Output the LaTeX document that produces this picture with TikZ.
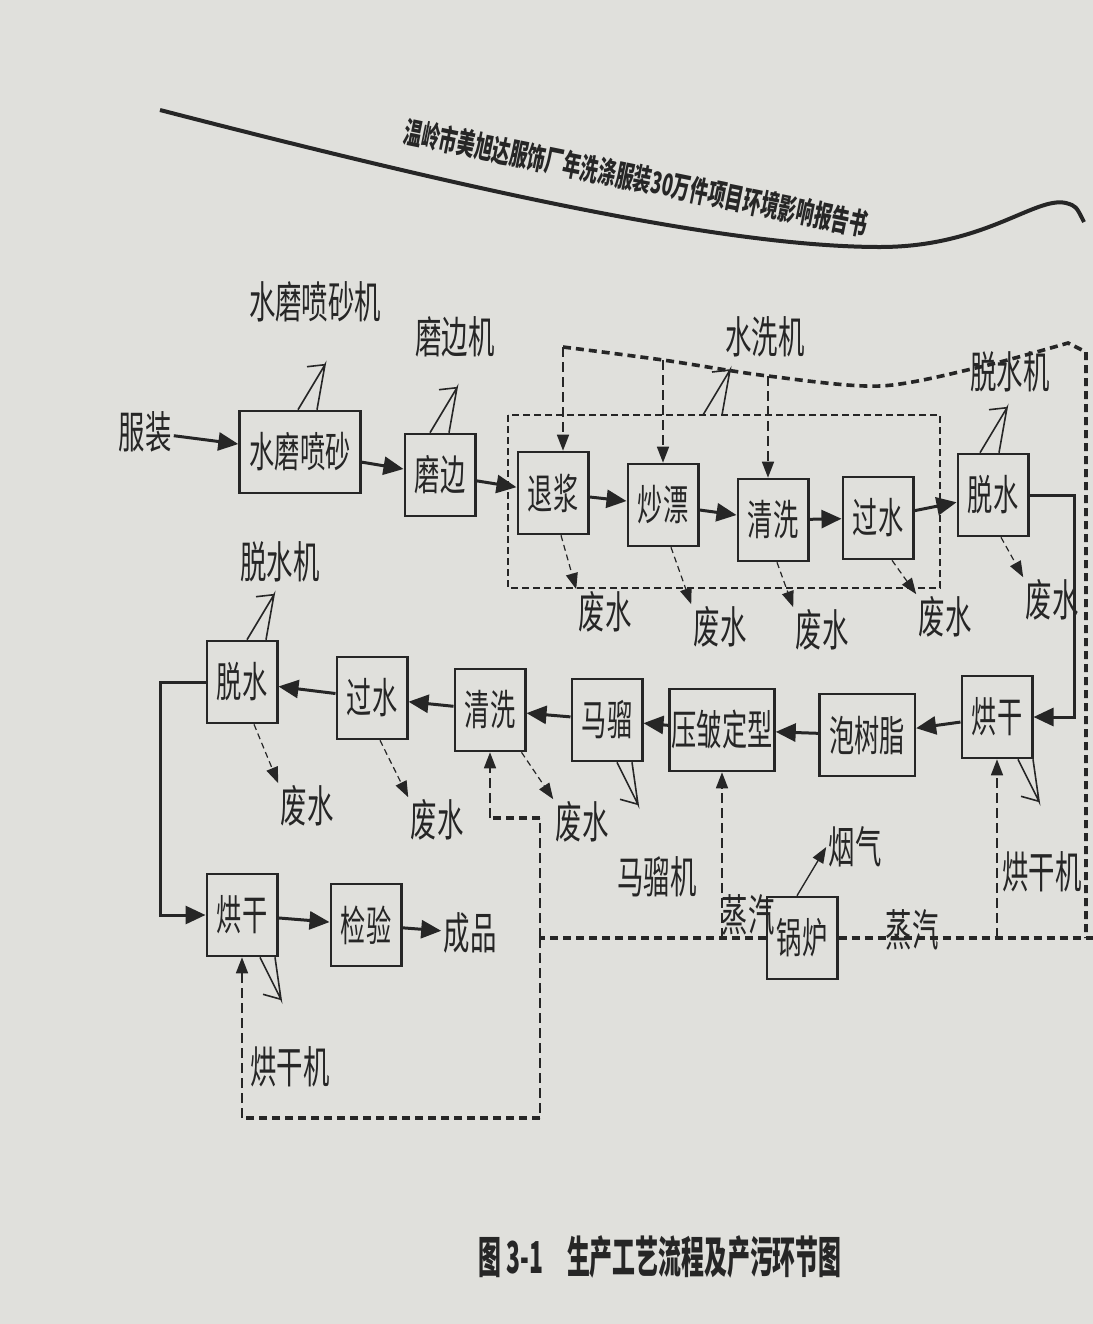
\documentclass[tikz,border=0pt]{standalone}
\usepackage{fontspec}
\setmainfont{Noto Sans CJK SC}[FakeStretch=0.6]
\newfontfamily\capfont{Noto Sans CJK SC}[FakeStretch=0.52]
\usetikzlibrary{arrows.meta, positioning, calc}

\definecolor{paper}{RGB}{224,224,220}
\definecolor{ink}{RGB}{38,38,38}

% noise marks of the machines
\newcommand{\noiseup}[1]{\draw[noise] #1 -- ++(27,-45) coordinate (nt) -- ++(-8,45) (nt) -- ++(-18,2);}
\newcommand{\noisedn}[1]{\draw[noise] #1 -- ++(21,42) coordinate (nt) -- ++(-6,-42) (nt) -- ++(-18,-5);}

\begin{document}
\begin{tikzpicture}[x=0.5pt, y=-0.5pt,
    box/.style={draw=ink, text=ink, line width=1.3pt, inner xsep=5pt, minimum height=41pt, font=\fontsize{21}{24}\selectfont},
    lbl/.style={text=ink, inner sep=1pt, font=\fontsize{22}{24}\selectfont},
    flow/.style={draw=ink, line width=1.5pt, -{Triangle[length=10pt, width=9pt]}},
    waste/.style={draw=ink, line width=0.6pt, densely dashed, -{Triangle[length=8pt, width=6pt]}},
    smoke/.style={draw=ink, line width=0.7pt, -{Triangle[length=8pt, width=6pt]}},
    steam/.style={draw=ink, line width=1.8pt, dash pattern=on 4pt off 2.5pt},
    steamv/.style={draw=ink, line width=0.8pt, dash pattern=on 5pt off 2.5pt},
    steamin/.style={steamv, -{Triangle[length=8pt, width=6pt]}},
    grp/.style={draw=ink, line width=0.9pt, dash pattern=on 3.5pt off 2pt},
    noise/.style={draw=ink, line width=0.8pt}
]
\useasboundingbox (0,0) rectangle (1093,1324);
\fill[paper] (0,0) rectangle (1093,1324);

% page header
\draw[ink, line width=2pt] (160,110) .. controls (450,185) and (720,247) .. (880,247) .. controls (985,247) and (1035,196) .. (1066,203) .. controls (1076,206) .. (1084,222);
\node[text=ink, rotate=-11.5, font=\bfseries\fontsize{15}{17}\selectfont] (hd) at (636,178) {温岭市美旭达服饰厂年洗涤服装30万件项目环境影响报告书};

% first row
\node[lbl] (fz)  at (145,432) {服装};
\node[box] (sm)  at (300,452) {水磨喷砂};
\node[box] (mb)  at (440,475) {磨边};
\node[box] (tj)  at (553,493) {退浆};
\node[box] (cp)  at (663,505) {炒漂};
\node[box] (qx1) at (773,520) {清洗};
\node[box] (gs1) at (878,518) {过水};
\node[box] (ts1) at (993,495) {脱水};

% second row
\node[box] (hg1) at (997,717) {烘干};
\node[box] (psz) at (867,735) {泡树脂};
\node[box, inner xsep=1pt] (yz) at (722,730) {压皱定型};
\node[box] (ml)  at (607,720) {马骝};
\node[box] (qx2) at (490,710) {清洗};
\node[box] (gs2) at (372,698) {过水};
\node[box] (ts2) at (242,682) {脱水};

% third row
\node[box] (hg2) at (242,915) {烘干};
\node[box] (jy)  at (366,925) {检验};
\node[lbl] (cpin) at (470,933) {成品};
\node[box] (gl)  at (802,938) {锅炉};

% machines
\node[lbl] (m1) at (315,302) {水磨喷砂机};
\node[lbl] (m2) at (455,337) {磨边机};
\node[lbl] (m3) at (765,337) {水洗机};
\node[lbl] (m4) at (1010,372) {脱水机};
\node[lbl] (m5) at (280,562) {脱水机};
\node[lbl] (m6) at (657,877) {马骝机};
\node[lbl] (m7) at (1042,872) {烘干机};
\node[lbl] (m8) at (290,1067) {烘干机};
\node[lbl] (yq)  at (855,847) {烟气};
\node[lbl] (zq1) at (748,915) {蒸汽};
\node[lbl] (zq2) at (912,930) {蒸汽};

% waste water
\node[lbl] (fs1) at (605,612) {废水};
\node[lbl] (fs2) at (720,627) {废水};
\node[lbl] (fs3) at (822,630) {废水};
\node[lbl] (fs4) at (945,617) {废水};
\node[lbl] (fs5) at (1052,600) {废水};
\node[lbl] (fs6) at (307,806) {废水};
\node[lbl] (fs7) at (437,820) {废水};
\node[lbl] (fs8) at (582,822) {废水};

\draw[flow] (fz) -- (sm);
\draw[flow] (sm) -- (mb);
\draw[flow] (mb) -- (tj);
\draw[flow] (tj) -- (cp);
\draw[flow] (cp) -- (qx1);
\draw[flow] (qx1) -- (gs1);
\draw[flow] (gs1) -- (ts1);
\draw[flow] (ts1.east) -- ++(45,0) |- (hg1.east);
\draw[flow] (hg1) -- (psz);
\draw[flow] (psz) -- (yz);
\draw[flow] (yz) -- (ml);
\draw[flow] (ml) -- (qx2);
\draw[flow] (qx2) -- (gs2);
\draw[flow] (gs2) -- (ts2);
\draw[flow] (ts2.west) -- ++(-45,0) |- (hg2.west);
\draw[flow] (hg2) -- (jy);
\draw[flow] (jy) -- (cpin);

% washing group
\draw[grp] (508,415) rectangle (940,588);
\coordinate (wt) at (703,415);

\noiseup{($(sm.north)+(-2,0)$)}
\noiseup{($(mb.north)+(-10,0)$)}
\noiseup{(wt)}
\noiseup{($(ts1.north)+(-13,0)$)}
\noiseup{($(ts2.north)+(5,0)$)}
\noisedn{($(ml.south)+(10,0)$)}
\noisedn{($(hg1.south)+(21,0)$)}
\noisedn{($(hg2.south)+(18,0)$)}

\draw[waste] ($(tj.south)+(8,0)$) -- (fs1.north west);
\draw[waste] ($(cp.south)+(8,0)$) -- (fs2.north west);
\draw[waste] ($(qx1.south)+(4,0)$) -- (fs3.north west);
\draw[waste] ($(gs1.south)+(14,0)$) -- (fs4.north west);
\draw[waste] ($(ts1.south)+(8,0)$) -- (fs5.north west);
\draw[waste] ($(ts2.south)+(12,0)$) -- (fs6.north west);
\draw[waste] ($(gs2.south)+(8,0)$) -- (fs7.north west);
\draw[waste] ($(qx2.south east)+(-5,0)$) -- (fs8.north west);

\draw[smoke] ($(gl.north)+(-5,0)$) -- (yq.west);

% steam lines
\coordinate (jl) at (540,938);
\coordinate (jr) at (1086,938);
\coordinate (ka) at (540,818);
\coordinate (kb) at (540,1118);
\coordinate (d1) at (563,347);
\coordinate (d2) at (663,360);
\coordinate (d3) at (768,376);
\draw[steam] (gl.west) -- (jl);
\draw[steam] (gl.east) -- (1093,938);
\draw[steamv] (jl) -- (ka);
\draw[steamv] (jl) -- (kb);
\draw[steam] (ka) -- (ka -| qx2.south);
\draw[steamin] (ka -| qx2.south) -- (qx2.south);
\draw[steam] (kb) -- (kb -| hg2.south);
\draw[steamin] (kb -| hg2.south) -- (hg2.south);
\draw[steamin] (jl -| yz.south) -- (yz.south);
\draw[steamin] (jr -| hg1.south) -- (hg1.south);
\draw[steam] plot[smooth] coordinates {(563,347) (663,360) (768,376) (880,386) (980,367) (1068,343)} -- (1086,352) -- (jr);
\draw[steamin] (d1) -- (d1 |- tj.north);
\draw[steamin] (d2) -- (d2 |- cp.north);
\draw[steamin] (d3) -- (d3 |- qx1.north);

% caption
\node[text=ink, font=\capfont\bfseries\fontsize{22}{26}\selectfont] (cap) at (660,1257) {图 3-1\hspace{12pt}生产工艺流程及产污环节图};
\end{tikzpicture}
\end{document}
